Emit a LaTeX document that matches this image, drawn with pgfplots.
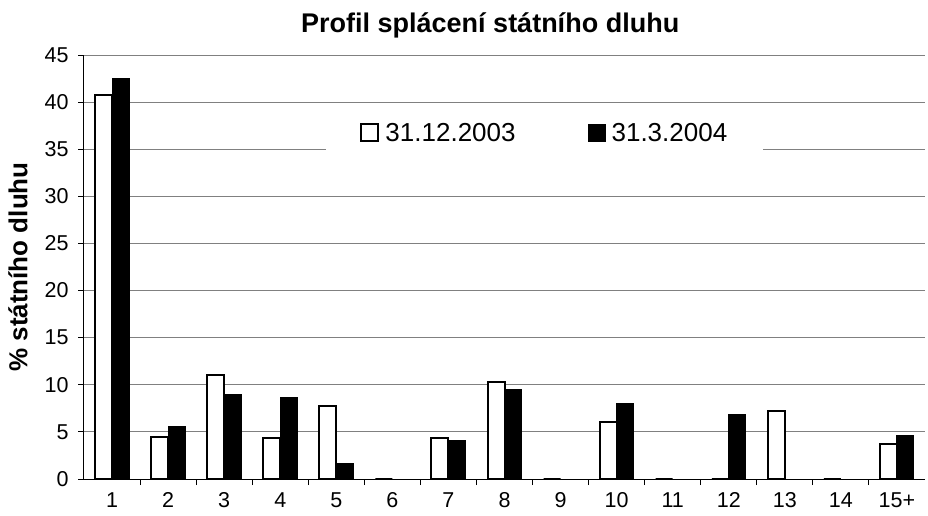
\documentclass[border=0pt]{standalone}
\usepackage{fontspec}
\setmainfont{Liberation Sans}
\usepackage{pgfplots}
\pgfplotsset{compat=1.18}
\begin{document}
\begin{tikzpicture}
\path[use as bounding box] (-84pt,-36pt) rectangle (844pt,479pt);
\begin{axis}[
  at={(0pt,0pt)}, anchor=south west,
  scale only axis, width=841pt, height=424pt,
  xmin=0.5, xmax=15.5, ymin=0, ymax=45,
  ybar=0pt, bar width=17pt,
  axis x line*=bottom, axis y line*=left,
  axis line style={black, line width=1pt},
  xtick={1,...,15},
  xticklabels={1,2,3,4,5,6,7,8,9,10,11,12,13,14,15+},
  minor xtick={1.5,2.5,...,14.5},
  ytick={0,5,...,45},
  tick align=outside,
  major tick length=6pt, minor tick length=6pt,
  major x tick style={draw=none},
  tick style={black, line width=1pt},
  ymajorgrids, major grid style={gray, line width=1pt},
  /pgf/number format/assume math mode=true,
  ticklabel style={font=\fontsize{21.5}{25}\selectfont},
  xticklabel style={yshift=-4pt},
  yticklabel style={xshift=-6pt},
  title={\textbf{Profil splácení státního dluhu}},
  title style={font=\fontsize{27}{32}\selectfont, at={(0.483,1)}, anchor=base, yshift=17pt},
  ylabel={\textbf{\% státního dluhu}},
  every axis y label/.style={at={(axis description cs:-0.0785,0.5)}, rotate=90, anchor=center, font=\fontsize{26}{30}\selectfont},
  legend style={at={(0.548,0.816)}, anchor=center, draw=none, fill=white,
    font=\fontsize{26}{30}\selectfont, legend columns=2,
    /tikz/every even column/.append style={column sep=70pt},
    inner xsep=34pt, inner ysep=9pt},
  sqlegend/.style={legend image code/.code={\draw[##1,/tikz/.cd] (0pt,-8pt) rectangle (17pt,9pt); \path (21pt,0pt);}},
]
\addplot[draw=black, fill=white, line width=2pt, sqlegend] coordinates {
(1,40.8) (2,4.5) (3,11.0) (4,4.4) (5,7.8) (6,0) (7,4.35) (8,10.3) (9,0) (10,6.0) (11,0) (12,0) (13,7.2) (14,0) (15,3.7)};
\addplot[draw=black, fill=black, line width=1pt, sqlegend] coordinates {
(1,42.5) (2,5.6) (3,9.0) (4,8.7) (5,1.6) (6,0) (7,4.1) (8,9.5) (9,0) (10,8.0) (11,0) (12,6.8) (13,0) (14,0) (15,4.6)};
\legend{31.12.2003,31.3.2004}
\end{axis}
\end{tikzpicture}
\end{document}
